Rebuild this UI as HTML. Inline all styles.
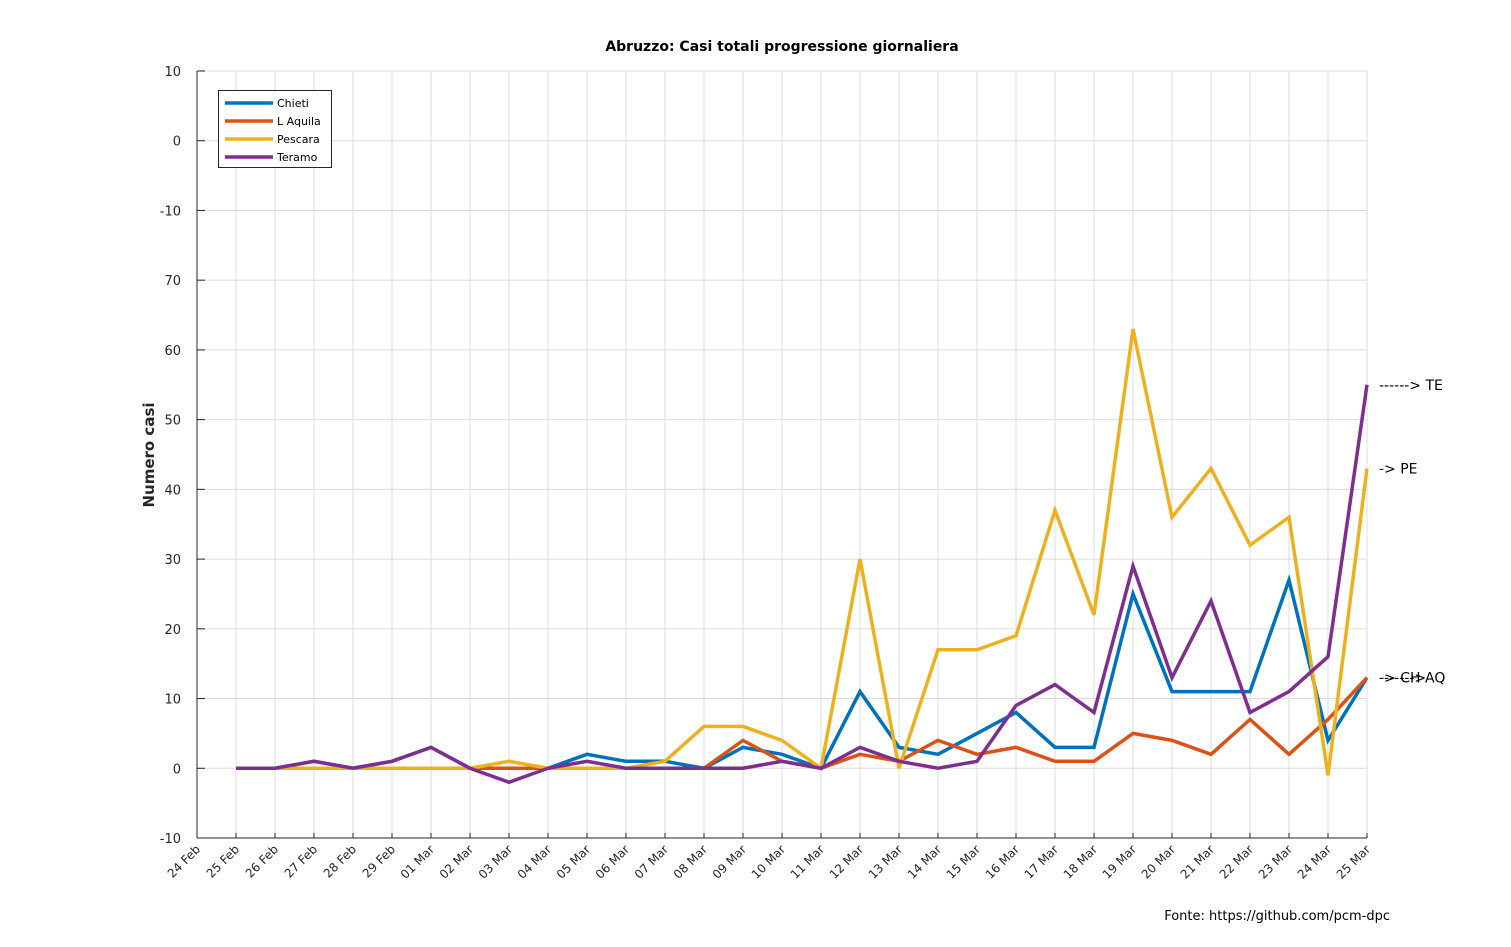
<!DOCTYPE html>
<html><head><meta charset="utf-8"><style>
body{margin:0;background:#fff;}
svg{font-family:"DejaVu Sans","Liberation Sans",sans-serif;}
</style></head><body>
<svg id="chart" width="1511" height="942"></svg>
<script>
const dates=["24 Feb","25 Feb","26 Feb","27 Feb","28 Feb","29 Feb","01 Mar","02 Mar","03 Mar","04 Mar","05 Mar","06 Mar","07 Mar","08 Mar","09 Mar","10 Mar","11 Mar","12 Mar","13 Mar","14 Mar","15 Mar","16 Mar","17 Mar","18 Mar","19 Mar","20 Mar","21 Mar","22 Mar","23 Mar","24 Mar","25 Mar"];
const yTicks=[-10,0,10,20,30,40,50,60,70,80,90,100];
const yTickLabels=["-10","0","10","20","30","40","50","60","70","-10","0","10"];
const chieti=[0,0,1,0,1,3,0,0,0,2,1,1,0,3,2,0,11,3,2,5,8,3,3,25,11,11,11,27,4,13];
const laquila=[0,0,0,0,0,0,0,0,0,0,0,0,0,4,1,0,2,1,4,2,3,1,1,5,4,2,7,2,7,13];
const pescara=[0,0,0,0,0,0,0,1,0,0,0,1,6,6,4,0,30,0,17,17,19,37,22,63,36,43,32,36,-1,43];
const teramo=[0,0,1,0,1,3,0,-2,0,1,0,0,0,0,1,0,3,1,0,1,9,12,8,29,13,24,8,11,16,55];
const seriesNames=["Chieti","L Aquila","Pescara","Teramo"];
const colors=["#0072bd","#d95319","#edb120","#7e2f8e"];
const L=197,R=1367,T=71,B=838,ymin=-10,ymax=100;
const sx=i=>L+(R-L)*i/(dates.length-1);
const sy=v=>B-(B-T)*(v-ymin)/(ymax-ymin);
const svg=document.getElementById('chart');const NS="http://www.w3.org/2000/svg";
function mk(tag,attrs,parent){const e=document.createElementNS(NS,tag);for(const k in attrs)e.setAttribute(k,attrs[k]);(parent||svg).appendChild(e);return e;}
const grid=mk('g',{});


dates.forEach((d,i)=>{mk('line',{x1:sx(i),x2:sx(i),y1:T,y2:B,stroke:'#dcdcdc','stroke-width':1},grid);
 const t=mk('text',{x:sx(i)+4,y:B+12,'font-size':12,'text-anchor':'end',fill:'#262626',transform:`rotate(-45 ${sx(i)+4} ${B+12})`});
 t.textContent=d;
 
 
 mk('line',{x1:sx(i),x2:sx(i),y1:B,y2:B-5,stroke:'#262626'});
});
yTicks.forEach((v,i)=>{mk('line',{x1:L,x2:R,y1:sy(v),y2:sy(v),stroke:'#dcdcdc'},grid);
 mk('line',{x1:L,x2:L+8,y1:sy(v),y2:sy(v),stroke:'#262626'});
 const t=mk('text',{x:L-16,y:sy(v)+5,'font-size':13,'text-anchor':'end',fill:'#262626'});
 t.textContent=yTickLabels[i];
 
 
});
mk('line',{x1:L,x2:L,y1:T,y2:B,stroke:'#262626'});
mk('line',{x1:L,x2:R,y1:B,y2:B,stroke:'#262626'});
[chieti,laquila,pescara,teramo].forEach((s,k)=>{
 const p=mk('polyline',{points:s.map((v,i)=>sx(i+1)+','+sy(v)).join(' '),fill:'none',stroke:colors[k],'stroke-width':3.5,'stroke-linejoin':'miter'});
 
 
});
const title=mk('text',{x:782,y:51,'font-size':14,'font-weight':'bold','text-anchor':'middle',fill:'#000'});
title.textContent="Abruzzo: Casi totali progressione giornaliera";


const yt=mk('text',{x:154,y:455,'font-size':15,'font-weight':'bold','text-anchor':'middle',fill:'#262626',transform:'rotate(-90 154 455)'});
yt.textContent="Numero casi";


const src=mk('text',{x:1390,y:920,'font-size':13,'text-anchor':'end',fill:'#000'});
src.textContent="Fonte: https://github.com/pcm-dpc";


const ann=[["------> TE",55],["-> PE",43],["-> CH AQ",13],["------->",13]];
ann.forEach(a=>{const t=mk('text',{x:1379,y:sy(a[1])+5,'font-size':14,fill:'#000'});t.textContent=a[0];
 
 });
const lg=mk('g',{});


mk('rect',{x:218.5,y:90.5,width:113,height:77,fill:'#fff',stroke:'#262626'},lg);
seriesNames.forEach((n,k)=>{const y=103+k*18;
 mk('line',{x1:225,x2:273,y1:y,y2:y,stroke:colors[k],'stroke-width':3.5},lg);
 const t=mk('text',{x:277,y:y+4,'font-size':11,fill:'#000'},lg);t.textContent=n;
 
 });
</script>
</body></html>
